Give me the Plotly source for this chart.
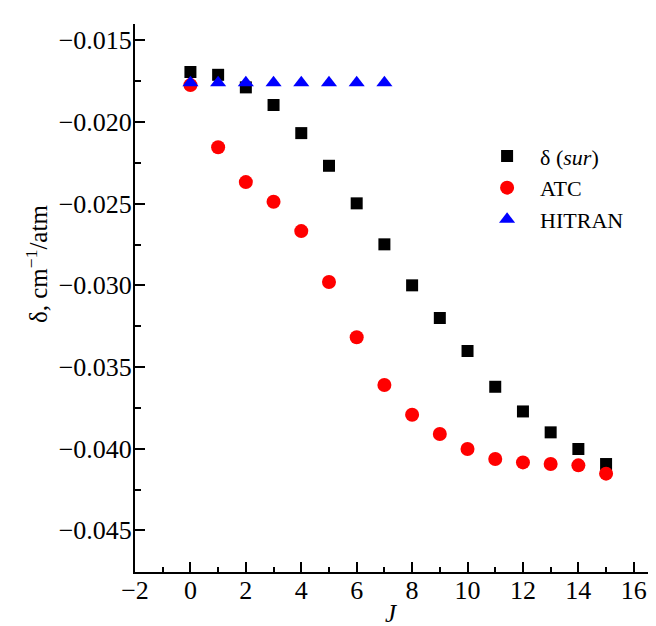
import plotly.graph_objects as go

J_sur = list(range(16))
delta_sur = [-0.01694, -0.01711, -0.01788, -0.01896, -0.02068, -0.02268, -0.02498, -0.02749,
             -0.03000, -0.03200, -0.03402, -0.03621, -0.03772, -0.03900, -0.04002, -0.04094]
J_atc = list(range(16))
delta_atc = [-0.01774, -0.02155, -0.02368, -0.02488, -0.02668, -0.02980, -0.03318, -0.03610,
             -0.03792, -0.03910, -0.04002, -0.04063, -0.04084, -0.04094, -0.04102, -0.04153]
J_hitran = list(range(8))
delta_hitran = [-0.01760] * 8

x_ticks = list(range(-2, 17, 2))
y_ticks = [-0.015, -0.020, -0.025, -0.030, -0.035, -0.040, -0.045]
y_ticktext = ["−0.015", "−0.020", "−0.025", "−0.030", "−0.035", "−0.040", "−0.045"]

FONT = "Times New Roman, Liberation Serif, DejaVu Serif, serif"
FS = 26

fig = go.Figure()
fig.add_trace(go.Scatter(x=J_sur, y=delta_sur, mode="markers", name="δ (<i>sur</i>)",
                         marker=dict(symbol="square", size=12, color="black")))
fig.add_trace(go.Scatter(x=J_atc, y=delta_atc, mode="markers", name="ATC",
                         marker=dict(symbol="circle", size=14, color="red")))
fig.add_trace(go.Scatter(x=J_hitran, y=delta_hitran, mode="markers", name="HITRAN",
                         marker=dict(symbol="triangle-up", size=14, color="blue")))

fig.update_layout(
    width=656, height=626,
    margin=dict(l=127, r=0, t=16, b=62),
    plot_bgcolor="white", paper_bgcolor="white",
    font=dict(family=FONT, size=FS, color="black"),
    showlegend=True,
    legend=dict(x=0.641, y=0.797, xanchor="left", yanchor="top",
                bgcolor="rgba(0,0,0,0)", font=dict(family=FONT, size=22),
                itemsizing="trace", tracegroupgap=0, itemwidth=56),
    xaxis=dict(range=[-2, 17.09], tickmode="array", tickvals=x_ticks,
               ticks="inside", ticklen=10, tickwidth=1.5, tickcolor="black",
               minor=dict(ticks="inside", dtick=1, tick0=-1, ticklen=5.5, tickcolor="black", tickwidth=1.5),
               showline=True, linecolor="black", linewidth=2, mirror=False,
               showgrid=False, zeroline=False, automargin=False,
               ticklabelstandoff=-6,
               tickfont=dict(family=FONT, size=FS)),
    yaxis=dict(range=[-0.04755, -0.0140], tickmode="array",
               tickvals=y_ticks, ticktext=y_ticktext,
               ticks="inside", ticklen=10, tickwidth=1.5, tickcolor="black",
               minor=dict(ticks="inside", dtick=0.0025, tick0=-0.0025, ticklen=5.5, tickcolor="black", tickwidth=1.5),
               showline=True, linecolor="black", linewidth=2, mirror=False,
               showgrid=False, zeroline=False, automargin=False,
               ticklabelstandoff=-4,
               tickfont=dict(family=FONT, size=FS)),
    annotations=[
        dict(text="δ, cm<sup>−1</sup>/atm", xref="paper", yref="paper", x=0, y=0.562,
             xanchor="center", yanchor="middle", xshift=-98, textangle=-90,
             showarrow=False, font=dict(family=FONT, size=25)),
        dict(text="<i>J</i>", xref="paper", yref="paper", x=0.484, y=0,
             xanchor="center", yanchor="middle", yshift=-41,
             showarrow=False, font=dict(family=FONT, size=25)),
    ],
)

fig.write_html("out.html")
